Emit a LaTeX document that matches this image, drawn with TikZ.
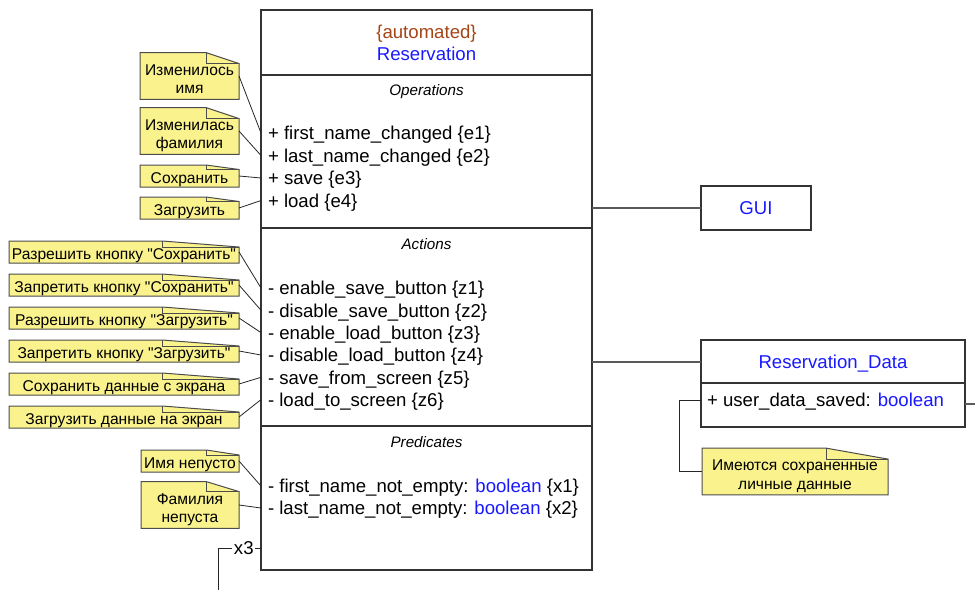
\documentclass[tikz,border=0pt]{standalone}
\usepackage{fontspec}
\setmainfont{Liberation Sans}[Ligatures=TeXOff]
\usetikzlibrary{math}
\usetikzlibrary{calc}
\usetikzlibrary{backgrounds}
\definecolor{umlblue}{RGB}{25,25,255}
\definecolor{umlbrown}{RGB}{165,68,20}
\definecolor{notefill}{RGB}{250,242,140}
\tikzset{classbox/.style={draw=black!80, line width=0.6pt, inner sep=0pt},
	row/.style={anchor=west, inner sep=0pt, text depth=0pt, font=\fontsize{9.3}{11}\selectfont},
	sect/.style={inner sep=0pt, text depth=0pt, font=\fontsize{7.6}{9}\selectfont\itshape},
	title/.style={inner sep=0pt, text depth=0pt, font=\fontsize{9.3}{11}\selectfont},
	note/.style={inner sep=0pt, text height=7pt, text depth=0pt, font=\fontsize{7.8}{9.2}\selectfont},
	twonote/.style={note, text height=16.15pt, text depth=7.25pt},
	notebg/.style={fill=notefill, draw=black!70, line width=0.5pt},
	link/.style={draw=black!85, line width=0.4pt},
	assoc/.style={draw=black!65, line width=0.6pt}}
% two centred lines of a note
\newcommand{\twolines}[2]{\begin{tabular}{@{}c@{}}#1\\#2\end{tabular}}
% folded corner of a note, #2 = depth of the fold
\newcommand{\notefold}[2]{%
	\begin{pgfonlayer}{background}
	\filldraw[notebg] (#1.south west) -- (#1.north west) -- ($(#1.north west)!2/3!(#1.north east)$) -- ($(#1.north east)+(0,#2)$) -- (#1.south east) -- cycle;
	\draw[notebg, fill=none] ($(#1.north west)!2/3!(#1.north east)$) |- ($(#1.north east)+(0,#2)$);
	\end{pgfonlayer}}

\begin{document}
\begin{tikzpicture}[x=0.5pt, y=-0.5pt, every node/.style={outer sep=0pt}]
	\tikzmath{\bxl=261; \bxr=592; \bxt=10; \bxb=570;
	\divh=75; \diva=228; \divp=426;
	\rowx=268; \bxc=(\bxl+\bxr)/2;}
	\useasboundingbox (0,0) rectangle (975,590);

	% the automated class
	\node[classbox, minimum width=165.5pt, minimum height=280pt] (res) at (\bxc, {(\bxt+\bxb)/2}) {};
	\draw[classbox] (\bxl,\divh) -- (\bxr,\divh);
	\draw[classbox] (\bxl,\diva) -- (\bxr,\diva);
	\draw[classbox] (\bxl,\divp) -- (\bxr,\divp);
	\node[title, text=umlbrown] (stereo) at (\bxc,32) {\{automated\}};
	\node[title, text=umlblue] (resname) at (\bxc,54) {Reservation};

	\node[sect] (ops) at (\bxc,90) {Operations};
	\node[row] (e1) at (\rowx,133) {+ first\_name\_changed \{e1\}};
	\node[row] (e2) at (\rowx,155.5) {+ last\_name\_changed \{e2\}};
	\node[row] (e3) at (\rowx,178) {+ save \{e3\}};
	\node[row] (e4) at (\rowx,200.5) {+ load \{e4\}};

	\node[sect] (acts) at (\bxc,244) {Actions};
	\node[row] (z1) at (\rowx,288) {- enable\_save\_button \{z1\}};
	\node[row] (z2) at (\rowx,310.3) {- disable\_save\_button \{z2\}};
	\node[row] (z3) at (\rowx,332.6) {- enable\_load\_button \{z3\}};
	\node[row] (z4) at (\rowx,355) {- disable\_load\_button \{z4\}};
	\node[row] (z5) at (\rowx,377.3) {- save\_from\_screen \{z5\}};
	\node[row] (z6) at (\rowx,399.6) {- load\_to\_screen \{z6\}};

	\node[sect] (preds) at (\bxc,442) {Predicates};
	\node[row] (x1) at (\rowx,486) {- first\_name\_not\_empty: \textcolor{umlblue}{boolean} \{x1\}};
	\node[row] (x2) at (\rowx,508) {- last\_name\_not\_empty: \textcolor{umlblue}{boolean} \{x2\}};

	% notes on the operations
	\node[twonote, minimum width=49.5pt, minimum height=22pt] (nfirst) at (189.5,76) {\twolines{Изменилось}{имя}};
	\node[twonote, minimum width=49.5pt, minimum height=22pt] (nlast) at (189.5,131) {\twolines{Изменилась}{фамилия}};
	\node[note, minimum width=49.5pt, minimum height=11pt] (nsave) at (189.5,176) {Сохранить};
	\node[note, minimum width=49.5pt, minimum height=11pt] (nload) at (189.5,208) {Загрузить};
	\notefold{nfirst}{11}
	\notefold{nlast}{11}
	\notefold{nsave}{4.5}
	\notefold{nload}{4.5}
	\draw[link] (nfirst.east) -- (e1.west -| res.west);
	\draw[link] (nlast.east) -- (e2.west -| res.west);
	\draw[link] (nsave.east) -- (e3.west -| res.west);
	\draw[link] (nload.east) -- (e4.west -| res.west);

	% notes on the actions
	\node[note, minimum width=115pt, minimum height=11pt] (nz1) at (124,252) {Разрешить кнопку "Сохранить"};
	\node[note, minimum width=115pt, minimum height=11pt] (nz2) at (124,285) {Запретить кнопку "Сохранить"};
	\node[note, minimum width=115pt, minimum height=11pt] (nz3) at (124,318) {Разрешить кнопку "Загрузить"};
	\node[note, minimum width=115pt, minimum height=11pt] (nz4) at (124,351) {Запретить кнопку "Загрузить"};
	\node[note, minimum width=115pt, minimum height=11pt] (nz5) at (124,384) {Сохранить данные с экрана};
	\node[note, minimum width=115pt, minimum height=11pt] (nz6) at (124,417) {Загрузить данные на экран};
	\notefold{nz1}{6}
	\notefold{nz2}{6}
	\notefold{nz3}{6}
	\notefold{nz4}{6}
	\notefold{nz5}{6}
	\notefold{nz6}{6}
	\draw[link] (nz1.east) -- (z1.west -| res.west);
	\draw[link] (nz2.east) -- (z2.west -| res.west);
	\draw[link] (nz3.east) -- (z3.west -| res.west);
	\draw[link] (nz4.east) -- (z4.west -| res.west);
	\draw[link] (nz5.east) -- (z5.west -| res.west);
	\draw[link] (nz6.east) -- (z6.west -| res.west);

	% notes on the predicates
	\node[note, minimum width=49pt, minimum height=11pt] (nx1) at (190,461) {Имя непусто};
	\node[twonote, minimum width=49pt, minimum height=22pt] (nx2) at (190,505) {\twolines{Фамилия}{непуста}};
	\notefold{nx1}{5}
	\notefold{nx2}{10}
	\draw[link] (nx1.east) -- (x1.west -| res.west);
	\draw[link] (nx2.east) -- (x2.west -| res.west);

	% predicate x3 leaving the class
	\coordinate (x3port) at (\bxl,548);
	\coordinate (x3bend) at (218,548);
	\coordinate (x3end) at (218,590);
	\draw[link] (x3port) -- node[pos=0.4, fill=white, inner sep=0.8pt, text depth=0pt, font=\fontsize{9.3}{11}\selectfont] (x3lbl) {x3} (x3bend) -- (x3end);

	% GUI and the data class
	\node[classbox, minimum width=55pt, minimum height=22pt, text depth=0pt, font=\fontsize{9.3}{11}\selectfont, text=umlblue] (gui) at (756,208) {GUI};
	\draw[assoc] (res.east |- gui) -- (gui.west);

	\node[classbox, minimum width=132pt, minimum height=43.5pt] (rd) at (833,383.5) {};
	\draw[classbox] (701,383) -- (965,383);
	\node[title, text=umlblue] (rdname) at (833,362) {Reservation\_Data};
	\node[row] (uds) at (707,400) {+ user\_data\_saved: \textcolor{umlblue}{boolean}};
	\draw[assoc] (res.east |- rdname) -- (rd.west |- rdname);
	\coordinate (rdout) at (975,404);
	\draw[assoc] (rd.east |- rdout) -- (rdout);

	\node[twonote, minimum width=93pt, minimum height=21.5pt] (nsaved) at (795,471.5) {\twolines{Имеются сохраненные}{личные данные}};
	\notefold{nsaved}{11}
	\draw[link] (uds.west -| rd.west) -- ++(-22,0) |- (nsaved.west);
\end{tikzpicture}
\end{document}
